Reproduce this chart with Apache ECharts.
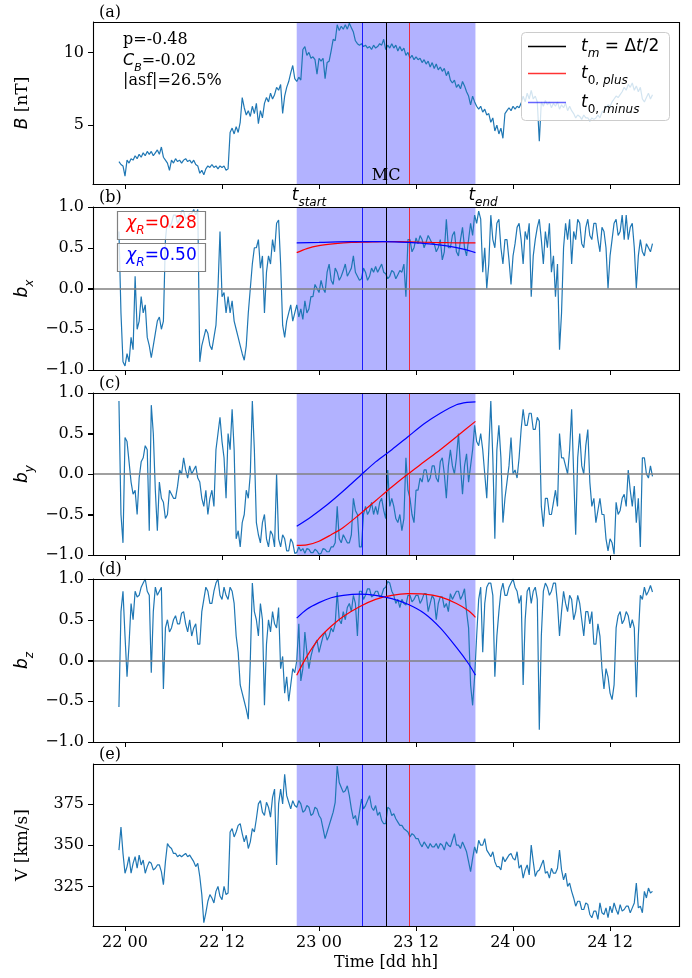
<!DOCTYPE html>
<html><head><meta charset="utf-8">
<script src="https://cdn.jsdelivr.net/npm/echarts@6/dist/echarts.min.js"></script>
<style>html,body{margin:0;padding:0;background:#fff}#c{width:692px;height:978px}</style>
</head><body><div id="c"></div>
<script>
// time grid: hours after 22 00:00, first sample at T0, step DT (one row = 2 hours)
const T0 = -0.75, DT = 0.25;

const B_nT = [
 2.5, 2.3, 2.2, 1.5,
 2.6, 2.4, 2.7, 2.6, 2.9, 2.7, 3.0, 2.8,
 3.1, 2.9, 3.2, 3.0, 3.2, 2.9, 3.1, 3.3,
 3.0, 3.5, 2.8, 2.6, 2.4, 1.9, 2.6, 2.4,
 2.7, 2.5, 2.6, 2.4, 2.6, 2.7, 2.5, 2.6,
 2.4, 2.6, 2.3, 2.2, 1.7, 1.9, 1.6, 2.0,
 2.2, 2.1, 2.3, 2.1, 2.2, 2.0, 2.2, 2.1,
 2.2, 1.9, 2.0, 4.5, 4.8, 4.4, 4.9, 4.5,
 5.2, 6.9, 6.2, 5.7, 6.0, 5.6, 6.3, 5.8,
 6.5, 5.1, 6.0, 5.5, 6.5, 6.9, 6.6, 7.2,
 6.8, 7.1, 7.6, 7.4, 7.8, 5.8, 7.0, 7.6,
 8.0, 8.6, 9.1, 8.2, 8.0, 8.3, 8.1, 10.2,
 10.4, 9.8, 10.0, 9.6, 9.7, 9.5, 8.5, 9.6,
 9.4, 9.6, 8.2, 9.3, 9.4, 10.1, 10.9, 10.8,
 11.9, 11.5, 11.8, 11.6, 11.9, 11.6, 12.0, 11.7,
 11.4, 10.8, 10.6, 10.5, 10.6, 10.4, 10.5, 10.3,
 10.4, 10.2, 10.5, 10.3, 10.4, 10.6, 10.5, 10.9,
 10.2, 10.5, 10.3, 10.6, 10.3, 10.5, 10.1, 10.4,
 10.1, 10.3, 9.8, 10.0, 9.6, 9.8, 9.5, 9.7,
 9.5, 9.6, 9.3, 9.5, 9.2, 9.4, 9.0, 9.3,
 8.9, 9.2, 8.8, 9.0, 8.7, 8.9, 8.4, 8.7,
 8.1, 7.9, 8.1, 7.6, 7.8, 7.5, 8.0, 7.7,
 7.3, 7.0, 6.4, 7.0, 6.6, 6.3, 6.1, 6.3,
 5.9, 6.1, 5.7, 5.8, 5.2, 5.5, 4.6, 5.0,
 4.4, 4.8, 4.1, 5.8, 6.0, 6.2, 6.0, 6.3,
 6.1, 6.3, 6.2, 6.5, 7.0, 6.6, 7.2, 6.8,
 7.4, 6.8, 7.0, 6.6, 3.9, 6.6, 6.3, 6.7,
 6.4, 6.6, 6.2, 6.5, 6.3, 6.6, 6.1, 6.4,
 6.2, 6.5, 6.0, 6.3, 6.0, 5.8, 5.5, 5.7,
 5.6, 5.4, 5.7, 5.5, 5.5, 5.3, 5.5, 5.4,
 5.5, 5.7, 5.5, 5.9, 6.0, 6.2, 6.4, 6.3,
 6.6, 6.8, 7.0, 6.9, 7.1, 7.3, 7.6, 7.4,
 7.8, 7.6, 7.9, 7.4, 7.7, 7.3, 7.6, 6.8,
 6.6, 6.9, 7.2, 6.8, 7.1
];
const b_x = [
 0.7, -0.3, -0.9, -0.95,
 -0.8, -0.9, -0.6, -0.75, 0.15, -0.5, -0.4, -0.1,
 -0.3, -0.2, -0.6, -0.7, -0.85, -0.7, -0.55, -0.4,
 -0.35, -0.5, -0.4, 0.6, 0.85, 0.75, 0.8, 0.9,
 0.9, 0.8, 0.85, 0.95, 0.95, 0.85, 0.88, 0.92,
 0.92, 0.97, 0.9, 0.97, -0.9, -0.7, -0.6, -0.5,
 -0.55, -0.7, -0.75, -0.6, -0.45, 0.0, 0.7, -0.1,
 -0.05, -0.3, -0.1, -0.3, -0.15, -0.4, -0.5, -0.6,
 -0.7, -0.8, -0.88, -0.7, -0.3, 0.0, 0.3, 0.5,
 0.5, 0.6, 0.25, 0.4, -0.3, 0.2, 0.4, 0.3,
 0.6, 0.45, 0.8, 0.84, 0.3, -0.45, -0.6, -0.4,
 -0.3, -0.2, -0.4, -0.3, -0.2, -0.35, -0.25, -0.38,
 -0.15, -0.3, -0.25, -0.1, -0.1, 0.05, 0.0, -0.05,
 0.1, 0.0, -0.05, 0.2, 0.3, 0.1, 0.05, 0.25,
 0.2, 0.1, 0.15, 0.22, 0.3, 0.15, 0.2, 0.25,
 0.4, 0.2, 0.15, 0.1, 0.12, 0.25, 0.2, 0.1,
 0.15, 0.25, 0.2, 0.27, 0.2, 0.25, 0.3, 0.2,
 0.18, 0.12, 0.15, 0.22, 0.2, 0.12, 0.17, 0.22,
 0.2, 0.3, -0.1, 0.6, 0.6, 0.45, 0.5, 0.62,
 0.55, 0.65, 0.6, 0.5, 0.57, 0.65, 0.6, 0.55,
 0.55, 0.45, 0.5, 0.6, 0.35, 0.45, 0.85, 0.5,
 0.5, 0.65, 0.7, 0.45, 0.4, 0.6, 0.75, 0.5,
 0.4, 0.6, 0.8, 0.65, 0.9, 0.8, 0.95, 0.85,
 0.2, 0.5, 0.0, 0.3, 0.9, 0.6, 0.5, 0.8,
 0.85, 0.5, 0.3, 0.6, 0.6, 0.35, 0.05, 0.4,
 0.55, 0.75, 0.8, 0.6, 0.3, 0.7, 0.6, 0.8,
 -0.1, 0.4, 0.6, 0.75, 0.85, 0.6, 0.3, 0.7,
 0.5, 0.8, 0.2, 0.4, -0.1, 0.3, -0.75, -0.3,
 0.5, 0.8, 0.6, 0.85, 0.3, 0.7, 0.6, 0.85,
 0.8, 0.55, 0.5, 0.75, 0.85, 0.65, 0.6, 0.8,
 0.8, 0.6, 0.45, 0.75, 0.7, 0.5, 0.0, 0.4,
 0.6, 0.8, 0.85, 0.65, 0.7, 0.9, 0.6, 0.9,
 0.6, 0.75, 0.8, 0.5, 0.0, 0.4, 0.6, 0.45,
 0.4, 0.55, 0.5, 0.45, 0.55
];
const b_y = [
 0.9, -0.5, -0.85, 0.45,
 0.4, 0.15, -0.1, -0.25, -0.2, -0.5, -0.05, 0.15,
 0.2, 0.35, 0.3, -0.7, 0.85, 0.5, -0.2, -0.7,
 -0.1, -0.3, -0.35, -0.55, -0.5, -0.2, -0.25, -0.3,
 -0.3, -0.15, 0.05, 0.0, 0.2, 0.05, -0.05, 0.1,
 0.0, 0.05, 0.1, -0.05, -0.1, -0.3, -0.4, -0.2,
 -0.5, -0.3, -0.2, -0.4, 0.3, 0.5, 0.7, 0.4,
 0.2, -0.3, 0.5, 0.3, 0.8, 0.3, -0.8, -0.7,
 -0.9, -0.6, -0.5, -0.2, -0.3, 0.0, 0.9, 0.3,
 -0.6, -0.75, -0.85, -0.6, -0.5, -0.8, -0.9, -0.7,
 -0.75, -0.9, 0.0, -0.8, -0.9, -0.75, -0.8, -0.95,
 -0.95, -0.8, -0.85, -0.98, -0.97, -0.9, -0.95, -0.92,
 -0.98, -0.92, -0.93, -0.97, -0.97, -0.93, -0.95, -0.99,
 -0.98, -0.92, -0.93, -0.96, -0.96, -0.9, -0.9, -0.85,
 -0.4, -0.8, -0.85, -0.75, -0.8, -0.85, -0.85, -0.75,
 -0.3, -0.45, -0.5, -0.9, -0.9, -0.5, -0.4, -0.5,
 -0.45, -0.35, -0.5, -0.4, -0.5, -0.35, -0.3, -0.45,
 -0.55, 0.05, -0.4, -0.3, -0.4, -0.55, -0.6, -0.5,
 -0.7, -0.55, 0.2, -0.2, -0.3, -0.5, -0.6, -0.2,
 -0.2, -0.05, -0.1, 0.05, 0.05, -0.1, -0.05, 0.1,
 0.1, -0.05, -0.1, 0.15, 0.2, 0.0, -0.3, 0.1,
 0.3, 0.1, 0.0, 0.2, 0.5, 0.1, -0.25, 0.1,
 0.25, -0.1, 0.1, 0.3, 0.6, 0.4, 0.35, 0.5,
 0.3, 0.0, -0.3, 0.3, 0.9, 0.2, -0.8, 0.3,
 0.6, 0.2, -0.6, -0.3, -0.1, 0.1, 0.45, 0.0,
 0.05, -0.05, 0.2, 0.55, 0.8, 0.6, 0.6, 0.75,
 0.75, 0.55, 0.55, 0.7, 0.65, -0.4, -0.65, -0.3,
 -0.3, -0.5, -0.5, -0.35, -0.2, -0.4, 0.5, 0.2,
 0.2, 0.1, 0.0, 0.3, 0.8, 0.0, -0.75, 0.2,
 0.5, 0.1, 0.0, 0.35, 0.55, -0.1, -0.4, -0.3,
 -0.6, -0.45, -0.3, -0.5, -0.5, -0.8, -0.95, -0.8,
 -0.85, -0.99, -0.35, -0.5, -0.45, -0.3, -0.25, -0.4,
 0.05, -0.2, -0.4, -0.15, -0.6, -0.3, -0.9, 0.2,
 0.2, 0.0, -0.05, 0.1, -0.03
];
const b_z = [
 -0.57, 0.6, 0.85, 0.3,
 -0.2, 0.2, 0.7, 0.5, 0.85, 0.78, 0.8, 0.9,
 0.95, 1.0, 0.85, 0.8, -0.15, 0.6, 0.9, 0.8,
 0.85, 0.9, -0.35, 0.4, 0.5, 0.35, 0.4, 0.5,
 0.55, 0.45, 0.45, 0.58, 0.6, 0.45, 0.35, 0.5,
 0.3, 0.4, 0.45, 0.2, 0.2, 0.6, 0.75, 0.9,
 0.85, 0.7, 0.7, 0.85, 0.95, 1.0, 0.8, 0.75,
 0.9, 0.8, 0.75, 0.9, 0.85, 0.7, 0.3, 0.1,
 -0.3, -0.4, -0.5, -0.6, -0.72, 0.0, 0.95, 0.6,
 0.5, 0.3, 0.7, 0.5, -0.55, 0.2, 0.5, 0.35,
 0.6, 0.45, 0.4, 0.65, -0.1, 0.05, -0.4, -0.2,
 -0.5, -0.3, -0.1, -0.15, 0.0, 0.45, -0.25, -0.1,
 0.35, 0.1, -0.1, 0.05, 0.15, 0.2, 0.25, 0.1,
 0.2, 0.3, 0.35, 0.25, 0.3, 0.4, 0.35, 0.45,
 0.84, 0.5, 0.45, 0.6, 0.5, 0.65, 0.7, 0.6,
 0.8, 0.7, 0.3, 0.85, 0.85, 0.75, 0.8, 0.88,
 0.88, 0.78, 0.8, 0.85, 0.85, 0.78, 0.8, 0.88,
 0.9, 0.97, 0.95, 0.85, 0.8, 0.7, 0.75, 0.65,
 0.75, 0.7, 0.68, 0.8, 0.8, 0.72, 0.75, 0.8,
 0.8, 0.7, 0.75, 0.82, 0.82, 0.6, 0.7, 0.8,
 0.75, 0.5, 0.7, 0.78, 0.78, 0.65, 0.7, 0.6,
 0.82, 0.75, 0.8, 0.85, 0.85, 0.75, 0.8, 0.88,
 0.6, 0.4, -0.3, -0.55, -0.2, 0.3, 0.75, 0.9,
 0.1, 0.7, 0.9, 0.95, 0.95, 0.8, -0.2, 0.3,
 0.6, 0.85, 0.95, 0.8, 0.8, 0.9, 0.95, 1.0,
 0.9, 0.85, 0.7, 0.8, -0.3, 0.5, 0.85, 0.9,
 0.7, 0.85, 0.9, 0.75, -0.85, 0.3, 0.85, 0.95,
 0.9, 0.8, 0.85, 0.95, 0.95, 0.7, 0.3, 0.6,
 0.85, 0.7, 0.6, 0.8, 0.75, 0.5, 0.6, 0.8,
 0.7, 0.5, 0.3, 0.6, 0.6, 0.45, 0.6, 0.2,
 0.2, 0.45, 0.3, -0.1, -0.35, -0.1, -0.2, -0.4,
 -0.48, -0.3, 0.4, 0.55, 0.6, 0.45, 0.5, 0.6,
 0.55, 0.4, 0.5, 0.4, -0.45, 0.3, 0.8, 0.75,
 0.9, 0.8, 0.85, 0.92, 0.84
];
const V_kms = [
 347, 361, 345, 333,
 337, 343, 333, 339, 343, 336, 344, 338,
 341, 333, 337, 340, 339, 335, 336, 338,
 338, 334, 326, 340, 351, 349, 348, 345,
 345, 343, 344, 343, 344, 345, 343, 344,
 342, 340, 337, 339, 331, 320, 303, 309,
 316, 320, 318, 315, 322, 325, 319, 317,
 325, 320, 321, 358, 360, 355, 358, 362,
 363, 357, 352, 356, 348, 352, 360, 358,
 366, 375, 377, 370, 368, 376, 373, 367,
 379, 384, 338, 375, 384, 375, 393, 380,
 376, 372, 377, 374, 373, 377, 375, 370,
 371, 374, 373, 368, 369, 373, 372, 368,
 366, 360, 354, 358, 362, 366, 370, 376,
 398, 388, 385, 382, 383, 386, 380, 372,
 366, 368, 362, 370, 378, 372, 374, 377,
 380, 373, 371, 374, 368, 370, 365, 363,
 363, 373, 372, 368, 369, 366, 364, 362,
 362, 360, 359, 358, 355, 357, 356, 354,
 354, 351, 349, 352, 350, 348, 351, 349,
 349, 351, 348, 351, 350, 347, 352, 350,
 349, 353, 357, 350, 350, 348, 352, 349,
 346, 340, 334, 342, 349, 345, 353, 350,
 350, 354, 347, 345, 343, 346, 340, 337,
 337, 335, 343, 340, 342, 344, 345, 342,
 341, 346, 336, 338, 330, 335, 338, 332,
 350, 340, 331, 334, 335, 338, 341, 333,
 334, 330, 336, 333, 333, 336, 347, 335,
 329, 333, 325, 327, 322, 318, 313, 316,
 316, 311, 311, 315, 314, 308, 306, 310,
 310, 305, 315, 309, 308, 312, 306, 313,
 309, 315, 311, 308, 314, 310, 311, 313,
 313, 309, 312, 315, 327, 312, 313, 309,
 322, 318, 324, 321, 322
];

// event times (hours after 22 00)
const tStart = 21.24, tEnd = 43.35, tMinus = 29.3, tMid = 32.3, tPlus = 35.2;
const xTicks = [0, 12, 24, 36, 48, 60];
const yTicksB = [5, 10];
const yTicksUnit = [-1, -0.5, 0, 0.5, 1];
const yTicksV = [325, 350, 375];

// fitted model curves
const bxPlusT  = [21.24, 22.5, 24, 26, 28, 30, 32, 34, 36, 38, 40, 42, 43.35];
const bxPlusV  = [0.44, 0.49, 0.525, 0.55, 0.565, 0.57, 0.575, 0.575, 0.57, 0.565, 0.562, 0.56, 0.56];
const bxMinusT = [21.24, 24, 28, 32, 34, 36, 38, 40, 42, 43.35];
const bxMinusV = [0.56, 0.565, 0.575, 0.575, 0.57, 0.56, 0.545, 0.52, 0.48, 0.44];
const byPlusT  = [21.24, 22.5, 24, 25.5, 27, 29, 31, 33, 35, 37, 39, 41, 43.35];
const byPlusV  = [-0.88, -0.875, -0.83, -0.75, -0.66, -0.5, -0.33, -0.16, 0.0, 0.15, 0.3, 0.46, 0.65];
const byMinusT = [21.24, 23, 25, 27, 29, 31, 33, 35, 37, 39, 41, 42.3, 43.35];
const byMinusV = [-0.645, -0.53, -0.38, -0.21, -0.03, 0.15, 0.3, 0.46, 0.62, 0.75, 0.855, 0.885, 0.89];
const bzPlusT  = [21.24, 22.5, 24, 25.5, 27, 29, 31, 33, 35, 37, 39, 41, 42.5, 43.35];
const bzPlusV  = [-0.18, 0.05, 0.27, 0.42, 0.54, 0.66, 0.75, 0.8, 0.82, 0.815, 0.78, 0.7, 0.61, 0.53];
const bzMinusT = [21.24, 22.5, 24, 25.5, 27, 29, 31, 33, 35, 37, 39, 41, 42.5, 43.35];
const bzMinusV = [0.52, 0.63, 0.71, 0.77, 0.8, 0.815, 0.8, 0.76, 0.69, 0.58, 0.4, 0.16, -0.04, -0.18];

const chiPlus = '0.28', chiMinus = '0.50';

// ---------------------------------------------------------------
const SERIF = 'DejaVu Serif', SANS = 'DejaVu Sans';
const FS = 16;
const tops = [22, 207, 393, 579, 764];
const heights = [162, 163, 162, 163, 162];
const LEFT = 93, WIDTH = 586;
const XMIN = -3.96, XMAX = 68.53;

const toPairs = vals => vals.map((v, i) => [T0 + i * DT, v]);
const zip = (t, v) => t.map((x, i) => [x, v[i]]);
const fmtHour = h => { const d = 22 + Math.floor(h / 24); const hh = h % 24; return d + ' ' + String(hh).padStart(2, '0'); };
const fmtB = v => (v < 0 ? '\u2212' : '') + Math.abs(v).toFixed(1);

const mathRich = (size) => ({
  m: { fontFamily: SANS, fontStyle: 'italic', fontSize: size, lineHeight: 26 },
  r: { fontFamily: SANS, fontSize: size, lineHeight: 26 },
  sr: { fontFamily: SANS, fontSize: Math.round(size * 0.7), lineHeight: 12, verticalAlign: 'bottom' },
  s: { fontFamily: SANS, fontStyle: 'italic', fontSize: Math.round(size * 0.7), lineHeight: 12, verticalAlign: 'bottom' },
  sf: { fontFamily: SERIF, fontSize: size, lineHeight: 26 }
});

const yNames = ['{m|B}{sf| [nT]}', '{m|b}{s|x}', '{m|b}{s|y}', '{m|b}{s|z}', '{sf|V [km/s]}'];
const yRanges = [[0.96, 12.09], [-1, 1], [-1, 1], [-1, 1], [301.0, 399.2]];
const yTickSets = [yTicksB, yTicksUnit, yTicksUnit, yTicksUnit, yTicksV];
const yFmt = [String, fmtB, fmtB, fmtB, String];

const grids = tops.map((t, i) => ({ left: LEFT, width: WIDTH, top: t, height: heights[i], show: false }));
const axLine = { show: true, onZero: false, lineStyle: { color: '#000', width: 1 } };

const xAxes = tops.map((t, i) => ({
  type: 'value', gridIndex: i, min: XMIN, max: XMAX, position: 'bottom',
  axisLine: axLine,
  splitLine: { show: false },
  axisTick: { show: true, customValues: xTicks, length: 5, lineStyle: { color: '#000', width: 1 } },
  axisLabel: { show: i === 4, customValues: xTicks, formatter: fmtHour, color: '#000', fontFamily: SERIF, fontSize: FS, margin: 9 },
  name: i === 4 ? 'Time [dd hh]' : '', nameLocation: 'middle', nameGap: 29,
  nameTextStyle: { color: '#000', fontFamily: SERIF, fontSize: FS }
}));

const yAxes = tops.map((t, i) => ({
  type: 'value', gridIndex: i, min: yRanges[i][0], max: yRanges[i][1], position: 'left',
  axisLine: axLine, splitLine: { show: false },
  axisTick: { show: true, customValues: yTickSets[i], length: 5, lineStyle: { color: '#000', width: 1 } },
  axisLabel: { show: false },
  name: yNames[i], nameLocation: 'middle', nameRotate: 90, nameGap: 57,
  nameTextStyle: { color: '#000', fontFamily: SERIF, fontSize: FS, rich: mathRich(17) }
}));

const series = [];
const mainData = [B_nT, b_x, b_y, b_z, V_kms];
tops.forEach((t, i) => {
  series.push({
    type: 'line', xAxisIndex: i, yAxisIndex: i, data: [], z: 1, silent: true,
    markArea: { silent: true, itemStyle: { color: 'rgba(0,0,255,0.3)' }, data: [[{ xAxis: tStart }, { xAxis: tEnd }]] },
    markLine: {
      silent: true, symbol: ['none', 'none'], label: { show: false }, animation: false,
      data: [
        { xAxis: tMinus, lineStyle: { color: '#0000ff', width: 1, type: 'solid', opacity: 0.85 } },
        { xAxis: tMid, lineStyle: { color: '#000000', width: 1, type: 'solid' } },
        { xAxis: tPlus, lineStyle: { color: '#ff0000', width: 1, type: 'solid', opacity: 0.75 } }
      ]
    }
  });
  series.push({
    type: 'line', xAxisIndex: i, yAxisIndex: i, data: toPairs(mainData[i]), z: 3,
    symbol: 'none', showSymbol: false, silent: true,
    lineStyle: { color: '#1f77b4', width: 1.2 }
  });
  if (i >= 1 && i <= 3) {
    series.push({
      type: 'line', xAxisIndex: i, yAxisIndex: i, data: [], z: 4, silent: true,
      markLine: { silent: true, symbol: ['none', 'none'], label: { show: false }, animation: false,
        data: [{ yAxis: 0, lineStyle: { color: '#808080', width: 1.5, type: 'solid' } }] }
    });
  }
});
const fits = [
  [1, bxPlusT, bxPlusV, bxMinusT, bxMinusV],
  [2, byPlusT, byPlusV, byMinusT, byMinusV],
  [3, bzPlusT, bzPlusV, bzMinusT, bzMinusV]
];
fits.forEach(([g, pt, pv, mt, mv]) => {
  series.push({ type: 'line', xAxisIndex: g, yAxisIndex: g, data: zip(pt, pv), smooth: 0.3, symbol: 'none', z: 5, silent: true, lineStyle: { color: '#ff0000', width: 1.2 } });
  series.push({ type: 'line', xAxisIndex: g, yAxisIndex: g, data: zip(mt, mv), smooth: 0.3, symbol: 'none', z: 5, silent: true, lineStyle: { color: '#0000ff', width: 1.2 } });
});

const chart = echarts.init(document.getElementById('c'), null, { renderer: 'canvas' });
chart.setOption({
  animation: false, backgroundColor: '#fff',
  grid: grids, xAxis: xAxes, yAxis: yAxes, series: series
});

// ---------------- annotations ----------------
const px = t => chart.convertToPixel({ xAxisIndex: 0 }, t);
const g = [];
// y tick labels and ticks placed through each y axis scale
yTickSets.forEach((ticks, i) => ticks.forEach(v => {
  const y = chart.convertToPixel({ yAxisIndex: i }, v);
  g.push({ type: 'line', z: 100, silent: true, shape: { x1: LEFT - 5, y1: Math.round(y) + 0.5, x2: LEFT, y2: Math.round(y) + 0.5 },
    style: { stroke: '#000', lineWidth: 1 } });
  g.push({ type: 'text', z: 100, silent: true,
    style: { text: yFmt[i](v), x: LEFT - 9, y: y, align: 'right', verticalAlign: 'middle', fontFamily: SERIF, fontSize: FS, fill: '#000' } });
}));
tops.forEach((t, i) => g.push({ type: 'rect', z: 100, silent: true,
  shape: { x: LEFT + 0.5, y: t + 0.5, width: WIDTH, height: heights[i] },
  style: { fill: 'none', stroke: '#000', lineWidth: 1.1 } }));
['(a)', '(b)', '(c)', '(d)', '(e)'].forEach((s, i) => g.push({ type: 'text', z: 100, silent: true,
  style: { text: s, x: 99, y: tops[i] - 9, verticalAlign: 'middle', fontFamily: SERIF, fontSize: FS, fill: '#000' } }));
const statTxt = ['{sf|p=-0.48}', '{m|C}{s|B}{sf|=-0.02}', '{sf||asf|=26.5%}'];
statTxt.forEach((s, i) => g.push({ type: 'text', z: 100, silent: true,
  style: { text: s, x: 123, y: 40 + i * 20.5, verticalAlign: 'middle', fontFamily: SERIF, fontSize: FS, fill: '#000', rich: mathRich(16) } }));
g.push({ type: 'text', z: 100, silent: true,
  style: { text: 'MC', x: px(tMid), y: 176, align: 'center', verticalAlign: 'middle', fontFamily: SERIF, fontSize: FS, fill: '#000' } });
g.push({ type: 'text', z: 100, silent: true,
  style: { text: '{m|t}{s|start}', x: px(tStart) - 5, y: 196, verticalAlign: 'middle', fill: '#000', rich: mathRich(17) } });
g.push({ type: 'text', z: 100, silent: true,
  style: { text: '{m|t}{s|end}', x: px(tEnd) - 7, y: 196, verticalAlign: 'middle', fill: '#000', rich: mathRich(17) } });
[[chiPlus, '#ff0000', 211], [chiMinus, '#0000ff', 243]].forEach(([v, c, y]) => {
  g.push({ type: 'rect', z: 100, silent: true, shape: { x: 117.5, y: y + 0.5, width: 88, height: 28 },
    style: { fill: 'rgba(255,255,255,0.8)', stroke: '#808080', lineWidth: 1.2 } });
  g.push({ type: 'text', z: 101, silent: true,
    style: { text: '{m|\u03c7}{s|R}{r|=' + v + '}', x: 161.5, y: y + 13, align: 'center', verticalAlign: 'middle', fill: c, rich: mathRich(17) } });
});
g.push({ type: 'rect', z: 100, silent: true, shape: { x: 521.5, y: 32.5, width: 148, height: 88, r: 4 },
  style: { fill: 'rgba(255,255,255,0.8)', stroke: '#cccccc', lineWidth: 1 } });
const legItems = [
  ['{m|t}{s|m}{r| = \u0394}{m|t}{r|/2}', '#000000', 46],
  ['{m|t}{sr|0, }{s|plus}', 'rgba(255,0,0,0.8)', 73],
  ['{m|t}{sr|0, }{s|minus}', 'rgba(0,0,255,0.6)', 102]
];
legItems.forEach(([txt, c, y]) => {
  g.push({ type: 'line', z: 101, silent: true, shape: { x1: 528, y1: y + 0.5, x2: 566, y2: y + 0.5 }, style: { stroke: c, lineWidth: 1.5 } });
  g.push({ type: 'text', z: 101, silent: true,
    style: { text: txt, x: 581, y: y + 1, verticalAlign: 'middle', fill: '#000', rich: mathRich(17) } });
});
chart.setOption({ graphic: g });
</script>
</body></html>
